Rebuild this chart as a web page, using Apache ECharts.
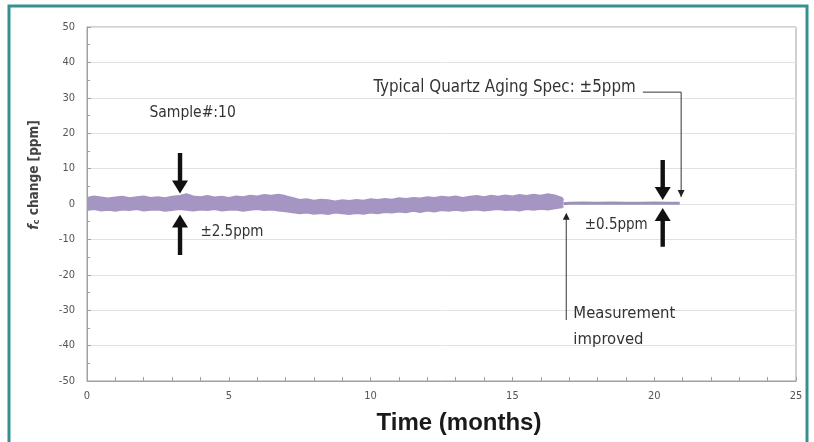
<!DOCTYPE html>
<html><head><meta charset="utf-8">
<script src="https://cdn.jsdelivr.net/npm/echarts@6/dist/echarts.min.js"></script>
<style>html,body{margin:0;padding:0;background:#fff}#c{width:814px;height:442px}</style>
</head><body><div id="c"></div>
<script>
// ---- data ----
const bandMonths = [0,0.25,0.5,0.75,1,1.25,1.5,1.75,2,2.25,2.5,2.75,3,3.25,3.5,3.75,4,4.25,4.5,4.75,5,5.25,5.5,5.75,6,6.25,6.5,6.75,7,7.25,7.5,7.75,8,8.25,8.5,8.75,9,9.25,9.5,9.75,10,10.25,10.5,10.75,11,11.25,11.5,11.75,12,12.25,12.5,12.75,13,13.25,13.5,13.75,14,14.25,14.5,14.75,15,15.25,15.5,15.75,16,16.25,16.5,16.75,16.8];
const bandUpper  = [1.8,2.2,1.9,1.6, 1.9,2.1,1.7,2.0, 2.2,1.8,2.0,1.7, 2.1,2.3,2.8,2.2, 2.0,2.3,1.9,2.1, 1.8,2.2,2.0,2.4, 2.2,2.6,2.4,2.7, 2.3,1.8,1.2,1.4, 1.0,1.3,1.1,0.8, 1.1,0.9,1.2,1.0, 1.4,1.2,1.5,1.3, 1.7,1.5,1.8,1.6, 2.0,1.8,2.1,1.9, 2.2,1.8,2.1,2.3, 2.0,2.4,2.1,2.5, 2.2,2.6,2.3,2.7, 2.4,2.8,2.5,1.8, 1.0];
const bandLower  = [-1.8,-1.5,-1.9,-1.7, -2.0,-1.6,-1.8,-1.5, -1.9,-1.7,-1.6,-2.0, -1.8,-1.5,-1.7,-1.9, -1.6,-1.8,-1.5,-1.9, -1.7,-1.6,-2.0,-1.7, -1.5,-1.8,-1.6,-1.9, -2.1,-2.4,-2.7,-2.5, -2.8,-2.6,-2.9,-2.5, -2.7,-2.9,-2.6,-2.8, -2.5,-2.7,-2.3,-2.5, -2.2,-2.4,-2.0,-2.3, -1.9,-2.2,-1.8,-2.0, -1.7,-2.0,-1.8,-1.6, -1.9,-1.7,-1.5,-1.8, -1.6,-1.9,-1.5,-1.7, -1.4,-1.6,-1.3,-1.0, -0.6];
const fineMonths = [16.8,17,17.5,18,18.5,19,19.5,20,20.5,20.9];
const fineValues = [0.1,0.2,0.3,0.2,0.3,0.2,0.2,0.3,0.2,0.2];
const xTicks = [0,5,10,15,20,25];
const yTicks = [-50,-40,-30,-20,-10,0,10,20,30,40,50];

const FONT = "'Liberation Sans Narrow','DejaVu Sans Condensed',sans-serif";
const BAND = '#a595c3';
const chart = echarts.init(document.getElementById('c'), null, {renderer:'canvas'});
const upperPts = bandMonths.map((m,i)=>[m,bandUpper[i]]);
const lowerPts = bandMonths.map((m,i)=>[m,bandLower[i]]);
const finePts = fineMonths.map((m,i)=>[m,fineValues[i]]);

chart.setOption({
  animation:false,
  grid:{left:87,right:18,top:27,bottom:61,outerBoundsMode:'none',containLabel:false,show:true,borderColor:'#a0a0a0',borderWidth:1,backgroundColor:'#fff'},
  xAxis:{type:'value',min:xTicks[0],max:xTicks[xTicks.length-1],interval:5,
    axisLine:{onZero:false,lineStyle:{color:'#a0a0a0'}},
    axisTick:{inside:true,length:4,lineStyle:{color:'#a0a0a0'}},
    minorTick:{show:true,splitNumber:5,length:4,lineStyle:{color:'#a0a0a0'}},
    splitLine:{show:false},
    axisLabel:{color:'#555',fontFamily:FONT,fontSize:11,margin:10}},
  yAxis:{type:'value',min:yTicks[0],max:yTicks[yTicks.length-1],interval:10,
    axisLine:{show:true,onZero:false,lineStyle:{color:'#a0a0a0'}},
    axisTick:{show:true,inside:true,length:4,lineStyle:{color:'#a0a0a0'}},
    minorTick:{show:true,splitNumber:2,length:3,lineStyle:{color:'#a0a0a0'}},
    splitLine:{show:true,lineStyle:{color:'#e2e2e2'}},
    axisLabel:{color:'#555',fontFamily:FONT,fontSize:11,margin:12}},
  series:[
    {type:'line',data:upperPts,symbol:'none',lineStyle:{width:1.5,color:BAND},areaStyle:{color:BAND,opacity:1},silent:true},
    {type:'line',data:lowerPts,symbol:'none',lineStyle:{width:1.5,color:BAND},areaStyle:{color:BAND,opacity:1},silent:true},
    {type:'line',data:finePts,symbol:'none',lineStyle:{width:3,color:'#9c92b8'},silent:true}
  ]
});

// ---- annotations placed in data coordinates ----
function px(m,v){return chart.convertToPixel({gridIndex:0},[m,v]);}
function fatArrow(m,v1,v2){ // tail at v1, tip at v2
  const a=px(m,v1), b=px(m,v2); const dir=b[1]>a[1]?1:-1;
  const x=a[0], hw=8, sw=2.2, hl=13;
  const base=b[1]-dir*hl;
  return {type:'polygon',shape:{points:[[x-sw,a[1]],[x+sw,a[1]],[x+sw,base],[x+hw,base],[x,b[1]],[x-hw,base],[x-sw,base]]},style:{fill:'#111'}};
}
function smallHead(x,y,dir){ // dir 1 = pointing down, -1 up
  return {type:'polygon',shape:{points:[[x-3.5,y-dir*7],[x+3.5,y-dir*7],[x,y]]},style:{fill:'#222'}};
}
function txt(m,v,t,size,align){const p=px(m,v);return {type:'text',x:p[0],y:p[1],style:{text:t,fill:'#333',font:size+'px '+FONT,textAlign:align||'left',textVerticalAlign:'middle'}};}

const g=[];
g.push({type:'rect',shape:{x:9,y:6,width:798,height:460},style:{fill:'none',stroke:'#34918d',lineWidth:3}});
g.push(fatArrow(3.28,14.4,3.0));
g.push(fatArrow(3.28,-14.4,-3.0));
g.push(fatArrow(20.3,12.4,1.1));
g.push(fatArrow(20.3,-12.1,-1.1));
g.push(txt(2.2,25.7,'Sample#:10',15.5));
g.push(txt(4.0,-7.9,'±2.5ppm',15));
g.push(txt(17.55,-5.9,'±0.5ppm',15));
g.push(txt(10.1,32.8,'Typical Quartz Aging Spec: ±5ppm',16.8));
g.push(txt(17.15,-31.1,'Measurement',16.5));
g.push(txt(17.15,-38.4,'improved',16.5));
// spec pointer
const s1=px(19.6,31.6), s2=px(20.95,31.6), s3=px(20.95,2.0);
g.push({type:'polyline',shape:{points:[s1,s2,s3]},style:{stroke:'#333',lineWidth:1,fill:'none'}});
g.push(smallHead(s3[0],s3[1],1));
// measurement pointer
const m1=px(16.9,-32.8), m2=px(16.9,-2.5);
g.push({type:'line',shape:{x1:m1[0],y1:m1[1],x2:m2[0],y2:m2[1]+6},style:{stroke:'#555',lineWidth:1.2}});
g.push(smallHead(m2[0],m2[1],-1));
// axis titles
g.push({type:'text',x:459,y:423,style:{text:'Time (months)',fill:'#1a1a1a',font:"bold 24px 'Liberation Sans Narrow','Liberation Sans',sans-serif",textAlign:'center',textVerticalAlign:'middle'}});
g.push({type:'text',x:34,y:175,rotation:Math.PI/2,style:{
  text:'{i|f}{s|c}{n| change [ppm]}',textAlign:'center',textVerticalAlign:'middle',
  rich:{i:{fontStyle:'italic',fontWeight:'bold',fontSize:14,fill:'#444',fontFamily:FONT},
        s:{fontSize:9,fontWeight:'bold',fill:'#444',fontFamily:FONT,verticalAlign:'bottom'},
        n:{fontSize:13.5,fontWeight:'bold',fill:'#444',fontFamily:FONT}}}});
chart.setOption({graphic:g});
</script></body></html>
